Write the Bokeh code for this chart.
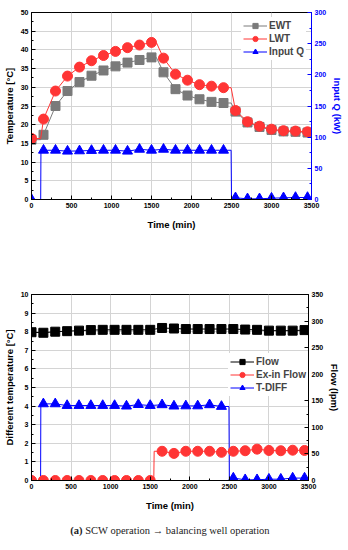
from bokeh.plotting import figure
from bokeh.models import Range1d, LinearAxis, SingleIntervalTicker, Legend, LegendItem, Div
from bokeh.layouts import column
from bokeh.embed import file_html
from bokeh.resources import INLINE

# ---------------- data: top chart ----------------
time = [0, 150, 300, 450, 600, 750, 900, 1050, 1200, 1350, 1500, 1650,
        1800, 1950, 2100, 2250, 2400, 2550, 2700, 2850, 3000, 3150, 3300, 3450]
ewt = [16.0, 17.3, 25.0, 29.0, 31.4, 33.1, 34.5, 35.6, 36.6, 37.3, 38.0, 34.0,
       29.5, 27.8, 26.8, 26.1, 25.8, 23.5, 20.6, 19.4, 18.6, 18.2, 18.1, 17.9]
lwt = [16.3, 21.5, 29.0, 33.0, 35.4, 37.1, 38.5, 39.6, 40.6, 41.3, 42.0, 37.8,
       33.5, 31.9, 30.7, 30.3, 29.9, 23.8, 20.8, 19.6, 18.8, 18.4, 18.3, 18.1]
input_q = [0, 79, 79, 77.5, 78, 78.6, 79, 79, 77.5, 80.5, 79, 80.5,
           79, 79, 79, 79, 79, 2.7, 1.1, 1.1, 2.1, 2.7, 3.2, 3.2]

# continuous traces (include the step knots between marker samples)
ewt_line_t = [0, 115] + time[1:11] + [1560] + time[11:17] + [2495] + time[17:]
ewt_line_v = [16.0, 16.0] + ewt[1:11] + [38.0] + ewt[11:17] + [25.8] + ewt[17:]
lwt_line_t = [0, 115] + time[1:11] + [1560] + time[11:17] + [2495] + time[17:]
lwt_line_v = [16.3, 16.3] + lwt[1:11] + [42.0] + lwt[11:17] + [29.9] + lwt[17:]
q_line_t = [0, 115, 118] + time[1:17] + [2495, 2500] + time[17:]
q_line_v = [0, 0, 79] + input_q[1:17] + [79, 0] + input_q[17:]

# ---------------- data: bottom chart ----------------
flow = [279, 278, 280, 281, 282, 283, 283.5, 283.5, 283.5, 283.5, 283.5, 287,
        286, 285, 285, 285, 285, 285, 284, 283.5, 282, 282, 282, 283]
exin_flow = [0, 0, 0, 0, 0, 0, 0, 0, 0, 0, 0, 55,
             51, 55, 55, 55, 53, 55, 56, 59, 56.5, 56, 57, 56.5]
t_diff = [0, 4.12, 4.12, 4.03, 4.03, 4.03, 4.03, 4.03, 4.0, 4.08, 4.03, 4.07,
          4.0, 4.01, 4.01, 4.07, 3.98, 0.13, 0.04, 0.04, 0.07, 0.07, 0.13, 0.13]

exin_line_t = time[:11] + [1545, 1550] + time[11:]
exin_line_v = exin_flow[:11] + [0, 55] + exin_flow[11:]
td_line_t = [0, 115, 118] + time[1:17] + [2495, 2500] + time[17:]
td_line_v = [0, 0, 4.12] + t_diff[1:17] + [3.98, 0] + t_diff[17:]

FONT = "Liberation Sans"
GRID = "#d4d4d4"
GRAY = "#7a7a7a"
RED = "#ff3535"
BLUE = "#0000ff"


def style_axis(ax, color="black", label_standoff=3):
    ax.axis_line_color = color
    ax.major_tick_line_color = color
    ax.minor_tick_line_color = color
    ax.major_label_text_color = color
    ax.axis_label_text_color = color
    ax.major_tick_in = 4
    ax.major_tick_out = 0
    ax.minor_tick_in = 2
    ax.minor_tick_out = 0
    ax.major_label_text_font = FONT
    ax.major_label_text_font_style = "bold"
    ax.major_label_text_font_size = "7px"
    ax.axis_label_text_font = FONT
    ax.axis_label_text_font_style = "bold"
    ax.axis_label_text_font_size = "9.5px"
    ax.major_label_standoff = 3
    ax.axis_label_standoff = label_standoff


def base_fig(fw, fh, left, right, top, bottom, ymax, ystep):
    p = figure(frame_width=fw, frame_height=fh, output_backend="svg",
               toolbar_location=None, x_range=Range1d(0, 3500),
               y_range=Range1d(0, ymax),
               min_border_left=left, min_border_right=right,
               min_border_top=top, min_border_bottom=bottom)
    p.outline_line_color = "black"
    p.outline_line_alpha = 1
    p.xaxis.ticker = SingleIntervalTicker(interval=500, num_minor_ticks=2)
    p.yaxis.ticker = SingleIntervalTicker(interval=ystep, num_minor_ticks=2)
    p.xgrid.ticker = SingleIntervalTicker(interval=500)
    p.ygrid.ticker = SingleIntervalTicker(interval=ystep)
    p.xgrid.grid_line_color = GRID
    p.ygrid.grid_line_color = GRID
    p.xaxis.axis_label = "Time (min)"
    style_axis(p.xaxis[0], label_standoff=8)
    style_axis(p.yaxis[0])
    return p


def make_legend(items, loc):
    lg = Legend(items=items, location=loc)
    lg.label_text_font = FONT
    lg.label_text_font_style = "bold"
    lg.label_text_font_size = "10px"
    lg.glyph_width = 24
    lg.glyph_height = 13
    lg.label_height = 13
    lg.label_standoff = 2
    lg.spacing = 0
    lg.padding = 2
    lg.margin = 5
    lg.border_line_alpha = 0
    lg.background_fill_color = "white"
    lg.background_fill_alpha = 1
    return lg


# ---------------- top figure ----------------
p1 = base_fig(280, 187, 23, 37, 6, 31, 50, 5)
p1.margin = (6, 0, 0, 0)
p1.yaxis.axis_label = "Temperature [°C]"
p1.extra_y_ranges = {"q": Range1d(0, 300)}
ax_q = LinearAxis(y_range_name="q", axis_label="Input Q (kW)",
                  ticker=SingleIntervalTicker(interval=50, num_minor_ticks=2))
style_axis(ax_q, BLUE)
p1.add_layout(ax_q, "right")

l_e = p1.line(ewt_line_t, ewt_line_v, line_color=GRAY, line_width=1)
s_e = p1.scatter(time, ewt, marker="square", size=9, fill_color=GRAY, line_color=GRAY)
l_l = p1.line(lwt_line_t, lwt_line_v, line_color=RED, line_width=1)
s_l = p1.scatter(time, lwt, marker="circle", size=10, fill_color=RED, line_color=RED)
l_q = p1.line(q_line_t, q_line_v, line_color=BLUE, line_width=1, y_range_name="q")
s_q = p1.scatter(time, input_q, marker="triangle", size=10, fill_color=BLUE,
                 line_color=BLUE, y_range_name="q")

lg1 = make_legend([LegendItem(label="EWT", renderers=[l_e, s_e]),
                   LegendItem(label="LWT", renderers=[l_l, s_l]),
                   LegendItem(label="Input Q", renderers=[l_q, s_q])], "top_right")
p1.add_layout(lg1)

# ---------------- bottom figure ----------------
p2 = base_fig(277, 186, 26, 37, 62, 30, 10, 1)
p2.yaxis.ticker = SingleIntervalTicker(interval=1, num_minor_ticks=2)
p2.yaxis.axis_label = "Different temperature [°C]"
p2.extra_y_ranges = {"flow": Range1d(0, 350)}
ax_f = LinearAxis(y_range_name="flow", axis_label="Flow (lpm)",
                  ticker=SingleIntervalTicker(interval=50, num_minor_ticks=2))
style_axis(ax_f)
p2.add_layout(ax_f, "right")

l_f = p2.line(time, flow, line_color="black", line_width=1, y_range_name="flow")
s_f = p2.scatter(time, flow, marker="square", size=9, fill_color="black",
                 line_color="black", y_range_name="flow")
l_t = p2.line(td_line_t, td_line_v, line_color=BLUE, line_width=1)
s_t = p2.scatter(time, t_diff, marker="triangle", size=10, fill_color=BLUE, line_color=BLUE)
l_x = p2.line(exin_line_t, exin_line_v, line_color=RED, line_width=1, y_range_name="flow")
s_x = p2.scatter(time, exin_flow, marker="circle", size=10, fill_color=RED,
                 line_color=RED, y_range_name="flow")

lg2 = make_legend([LegendItem(label="Flow", renderers=[l_f, s_f]),
                   LegendItem(label="Ex-in Flow", renderers=[l_x, s_x]),
                   LegendItem(label="T-DIFF", renderers=[l_t, s_t])], (197, 84))
lg2.margin = 0
p2.add_layout(lg2)

caption = Div(text='<div style="width:340px;text-align:center;font-family:\'Liberation Serif\';'
                   'font-size:10.5px;color:#222;"><b>(a)</b> SCW operation &rarr; balancing well operation</div>',
              width=340, height=20, margin=(9, 0, 0, 0))

layout = column(p1, p2, caption)
open("out.html", "w").write(file_html(layout, INLINE))
